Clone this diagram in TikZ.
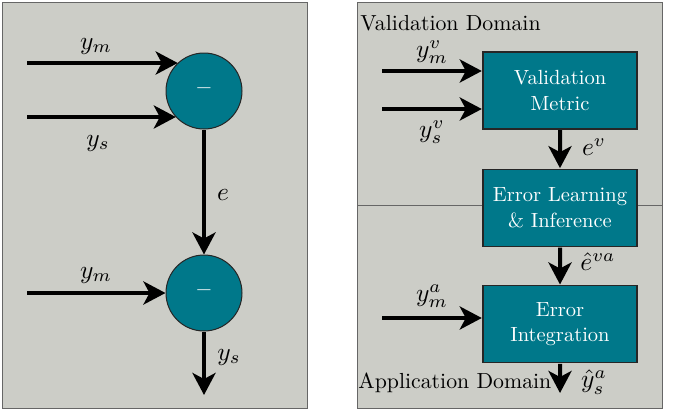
\documentclass[tikz,border=0pt]{standalone}
\usetikzlibrary{arrows.meta, positioning}

\definecolor{panelgray}{RGB}{204,205,199}
\definecolor{blockteal}{RGB}{0,120,138}

\tikzset{
	panel/.style = {draw=black!60, line width=1pt, fill=panelgray},
	diffnode/.style = {circle, draw=black!85, line width=1pt, fill=blockteal, minimum size=76pt, inner sep=0pt, text=white},
	minus/.style = {text=white, inner sep=0pt, scale=2.3, font=\bfseries},
	block/.style = {rectangle, draw=black!85, line width=1.2pt, fill=blockteal, scale=2.05, inner sep=1pt, minimum width=75.1pt, minimum height=37.5pt, align=center, text=white, font=\fontsize{10}{12.6}\selectfont},
	domaintext/.style = {anchor=west, inner sep=0pt, scale=2.18},
	flow/.style = {line width=4pt, -{Stealth[length=22pt, width=23pt, inset=6pt]}},
	sig/.style = {inner sep=0pt, scale=2.55},
}

\begin{document}
\begin{tikzpicture}[x=1pt, y=-1pt]
	\useasboundingbox (0,0) rectangle (685,410);

	% left panel
	\draw[panel] (2,2) rectangle (307,408);
	\node[diffnode] (diffA) at (204,91) {};
	\node[diffnode] (diffB) at (204,293) {};
	\node[minus] (minA) at (diffA) {\textendash};
	\node[minus] (minB) at (diffB) {\textendash};

	\coordinate (ymA) at (27,63);
	\coordinate (ysA) at (27,117);
	\coordinate (ymB) at (27,293);
	\coordinate (ysB) at (204,395);

	\begin{scope}[flow]
		\draw (ymA) -- (ymA -| diffA.133);
		\draw (ysA) -- (ysA -| diffA.223);
		\draw (diffA) -- (diffB);
		\draw (ymB) -- (diffB);
		\draw (diffB) -- (ysB);
	\end{scope}

	\node[sig] (lymA) at (96,46) {$y_m$};
	\node[sig] (lysA) at (98,143) {$y_s$};
	\node[sig] (le) at (223,195) {$e$};
	\node[sig] (lymB) at (96,275) {$y_m$};
	\node[sig] (lysB) at (229,357) {$y_s$};

	% right panel
	\draw[panel] (357,2) rectangle (662,408);
	\draw[draw=black!60, line width=1pt] (357,205) -- (662,205);
	\node[domaintext] (vdom) at (360,23) {Validation Domain};
	\node[domaintext] (adom) at (358,383) {Application Domain};

	\node[block] (vm) at (560,90.5) {Validation\\Metric};
	\node[block, below=38pt of vm] (eli) {Error Learning\\\& Inference};
	\node[block, below=37pt of eli] (ei) {Error\\Integration};

	\coordinate (ymv) at (382,71);
	\coordinate (ysv) at (382,109);
	\coordinate (yma) at (382,318);
	\coordinate (ysa) at (560,393);

	\begin{scope}[flow]
		\draw (ymv) -- (ymv -| vm.west);
		\draw (ysv) -- (ysv -| vm.west);
		\draw (vm) -- (eli);
		\draw (eli) -- (ei);
		\draw (yma) -- (yma -| ei.west);
		\draw (ei) -- (ysa);
	\end{scope}

	\node[sig] (lymv) at (432,52) {$y_m^v$};
	\node[sig] (lysv) at (432,132) {$y_s^v$};
	\node[sig] (lev) at (594,147) {$e^v$};
	\node[sig] (leva) at (598,262) {$\hat{e}^{va}$};
	\node[sig] (lyma) at (432,296) {$y_m^a$};
	\node[sig] (lysa) at (594,382) {$\hat{y}_s^a$};
\end{tikzpicture}
\end{document}
